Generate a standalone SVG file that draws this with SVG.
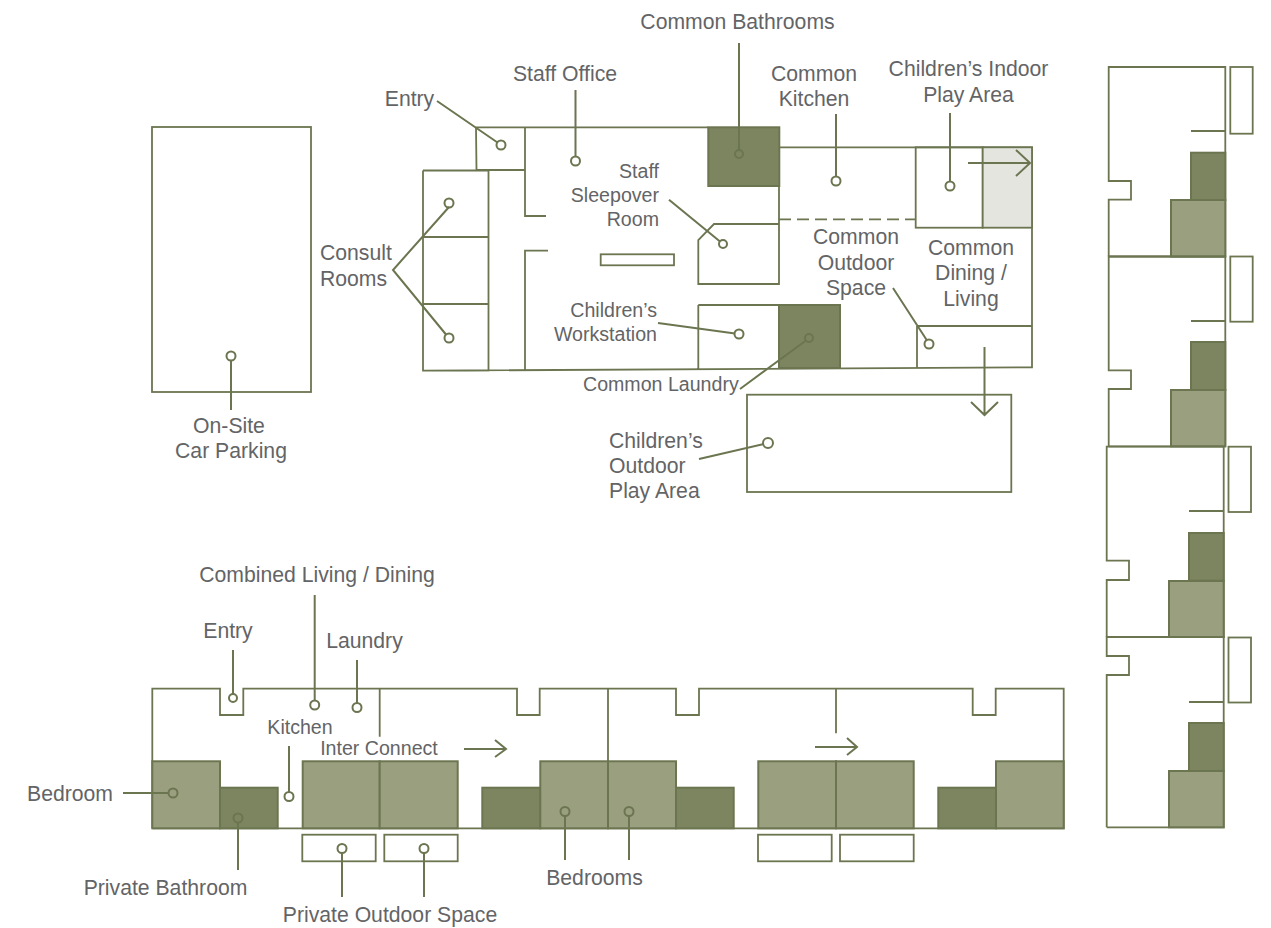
<svg xmlns="http://www.w3.org/2000/svg" width="1271" height="928" viewBox="0 0 1271 928">
<style>
.w{fill:none;stroke:#6b7550;stroke-width:1.8}
.o{fill:#fff;stroke:#6b7550;stroke-width:1.8}
.d{fill:#7d8560;stroke:#6b7550;stroke-width:2}
.m{fill:#9a9f80;stroke:#6b7550;stroke-width:2}
.g{fill:#e4e5df;stroke:#6b7550;stroke-width:1.8}
.l{fill:none;stroke:#6b7550;stroke-width:2}
.c{fill:none;stroke:#6b7550;stroke-width:2}
text{font-family:"Liberation Sans",Arial,sans-serif;font-size:21.2px;fill:#636466}
.s{font-size:19.6px}
.a{text-anchor:middle}
.e{text-anchor:end}
</style>
<rect width="1271" height="928" fill="#fff"/>
<g id="car-parking"><rect class="w" x="152" y="127" width="159" height="265"/></g>
<g id="common-house">
<path class="w" d="M476 127.300H708M476 127.300L476.500 170H525M525 127.300V216H546M548 250.700H525V370M423 170.500V370.700H488.500V170.500H423M423 237H488.500M423 304H488.500M423 370.700L1032 367.300V147.300H779V284H698.300V240L714 224H779M698.300 305V368.500M698.300 305H779M917 326V367.500M917 326H1032"/>
<rect class="w" x="600.700" y="254.300" width="73.300" height="11"/>
<path class="w" d="M779 219.300H916" stroke-dasharray="12 6"/>
<rect class="w" x="915.700" y="147.300" width="67" height="80.400"/>
<rect class="g" x="982.700" y="147.300" width="49.300" height="80.400"/>
<rect class="d" x="708.300" y="127.300" width="71" height="58.700"/>
<rect class="d" x="779" y="305" width="61" height="63"/>
<rect class="w" x="747" y="394.700" width="264.300" height="97.300"/>
</g>
<g id="units-horizontal">
<path class="w" d="M152.300 828.300V688.700H220V715H243.300V688.700H517V715H539.700V688.700H676V715H699V688.700H972.700V715H995.700V688.700H1063.700V828.300H152.300"/>
<path class="w" d="M608 688.700V828.300M379.700 688.700V736.700M836 688.700V733.300"/>
<rect class="m" x="152.300" y="761.300" width="67.700" height="67"/>
<rect class="d" x="220" y="787.700" width="57.700" height="40.600"/>
<rect class="m" x="302.700" y="761.300" width="77" height="67"/>
<rect class="m" x="379.700" y="761.300" width="78" height="67"/>
<rect class="d" x="482.300" y="787.700" width="58" height="40.600"/>
<rect class="m" x="540.300" y="761.300" width="67.700" height="67"/>
<rect class="m" x="608" y="761.300" width="68" height="67"/>
<rect class="d" x="676" y="787.700" width="57.700" height="40.600"/>
<rect class="m" x="758.300" y="761.300" width="77.700" height="67"/>
<rect class="m" x="836" y="761.300" width="77.700" height="67"/>
<rect class="d" x="938.300" y="787.700" width="57.700" height="40.600"/>
<rect class="m" x="996" y="761.300" width="67.700" height="67"/>
<rect class="w" x="302.300" y="834.700" width="73.400" height="26.600"/>
<rect class="w" x="384.300" y="834.700" width="73.400" height="26.600"/>
<rect class="w" x="758" y="834.700" width="73.700" height="26.600"/>
<rect class="w" x="840" y="834.700" width="73.700" height="26.600"/>
</g>
<g id="units-vertical">
<path class="w" d="M1108.700 256.500V199.700H1131V181H1108.700V67H1225.300V256.500H1108.700M1191 131H1225.300"/>
<rect class="d" x="1191" y="152.700" width="34.300" height="47.300"/>
<rect class="m" x="1171" y="200" width="54.300" height="56.500"/>
<rect class="w" x="1230.300" y="67" width="22.400" height="66.700"/>
<path class="w" d="M1108.700 446.300V389H1131V370.300H1108.700V256.500H1225.300V446.300H1108.700M1191 321H1225.300"/>
<rect class="d" x="1191" y="342" width="34.300" height="48"/>
<rect class="m" x="1171" y="390" width="54.300" height="56.300"/>
<rect class="w" x="1230.300" y="256.500" width="22.400" height="65.200"/>
<path class="w" d="M1106.700 637V580H1129V560.700H1106.700V446.700H1223.700V637H1106.700M1189 511H1223.700"/>
<rect class="d" x="1189" y="533" width="34.700" height="47.700"/>
<rect class="m" x="1169" y="581" width="54.700" height="56"/>
<rect class="w" x="1228.500" y="446.700" width="22.500" height="65.300"/>
<path class="w" d="M1106.700 827.300V675H1129V656H1106.700V637H1223.700V827.300H1106.700M1189 702H1223.700"/>
<rect class="d" x="1189" y="723" width="34.700" height="48"/>
<rect class="m" x="1169" y="771" width="54.700" height="56.300"/>
<rect class="w" x="1228.500" y="637.500" width="22.500" height="65"/>
</g>
<g id="connectors">
<path class="l" d="M739 43V150M836 114V177M950 113V182M575.500 90V157M437 101L497.500 142.500M449 207L393 270L446 334.500M669 199.700L720 241.500M658 323L735 333.500M740 389L806 340.500M893 288L927 340.500M699 459L764 444M231 360V410"/>
<path class="l" d="M233 650V694M314.700 595V701M357 660V703M289 746V792M123 793H169M238 822V870M342 852V897M424 852V897M565 815V860M629 815V860"/>
<path class="l" d="M968 163H1030M1016 150L1030 163L1016 176M984.500 347V415M971 402L984.500 415L998 402M464 749H506M495 740L506 749L495 757M815 747H857M847 738L857 747L847 755"/>
<circle class="c" cx="739" cy="154" r="4"/><circle class="c" cx="836" cy="181" r="4.500"/><circle class="c" cx="950" cy="186" r="4.500"/><circle class="c" cx="575.500" cy="161" r="4.500"/><circle class="c" cx="501" cy="145" r="4.500"/><circle class="c" cx="449" cy="203" r="4.500"/><circle class="c" cx="449" cy="338" r="4.500"/><circle class="c" cx="723" cy="244" r="4"/><circle class="c" cx="739" cy="334" r="4.500"/><circle class="c" cx="809" cy="338" r="4"/><circle class="c" cx="929" cy="344" r="4.500"/><circle class="c" cx="768" cy="443" r="5"/><circle class="c" cx="231" cy="356" r="4.500"/>
<circle class="c" cx="233" cy="698" r="4"/><circle class="c" cx="314.700" cy="705" r="4.500"/><circle class="c" cx="357" cy="707.500" r="4.500"/><circle class="c" cx="289" cy="796.500" r="4.500"/><circle class="c" cx="173" cy="793" r="4.500"/><circle class="c" cx="238" cy="818" r="4.500"/><circle class="c" cx="342" cy="848.500" r="4.500"/><circle class="c" cx="424" cy="848.500" r="4.500"/><circle class="c" cx="565" cy="811.500" r="4.500"/><circle class="c" cx="629" cy="811.500" r="4.500"/>
</g>
<g id="labels">
<text class="a" x="737.500" y="29">Common Bathrooms</text>
<text class="a" x="814" y="81">Common</text><text class="a" x="814" y="106">Kitchen</text>
<text class="a" x="968.500" y="76">Children’s Indoor</text><text class="a" x="968.500" y="102">Play Area</text>
<text class="a" x="565" y="81">Staff Office</text>
<text class="a" x="409.500" y="106">Entry</text>
<text class="e s" x="659" y="178">Staff</text><text class="e s" x="659" y="202">Sleepover</text><text class="e s" x="659" y="226">Room</text>
<text x="320" y="260">Consult</text><text x="320" y="286">Rooms</text>
<text class="e s" x="657" y="317">Children’s</text><text class="e s" x="657" y="341">Workstation</text>
<text class="s" x="583" y="391">Common Laundry</text>
<text class="a" x="856" y="244">Common</text><text class="a" x="856" y="270">Outdoor</text><text class="a" x="856" y="295">Space</text>
<text class="a" x="971" y="255">Common</text><text class="a" x="971" y="280">Dining /</text><text class="a" x="971" y="306">Living</text>
<text x="609" y="448">Children’s</text><text x="609" y="473">Outdoor</text><text x="609" y="498">Play Area</text>
<text class="a" x="229" y="433">On-Site</text><text class="a" x="231" y="458">Car Parking</text>
<text class="a" x="317" y="582">Combined Living / Dining</text>
<text class="a" x="228" y="638">Entry</text>
<text class="a" x="364.500" y="648">Laundry</text>
<text class="a s" x="300" y="734">Kitchen</text>
<text class="a s" x="379" y="755">Inter Connect</text>
<text x="27" y="801">Bedroom</text>
<text class="a" x="165.500" y="895">Private Bathroom</text>
<text class="a" x="390" y="922">Private Outdoor Space</text>
<text class="a" x="594.500" y="885">Bedrooms</text>
</g>
</svg>
